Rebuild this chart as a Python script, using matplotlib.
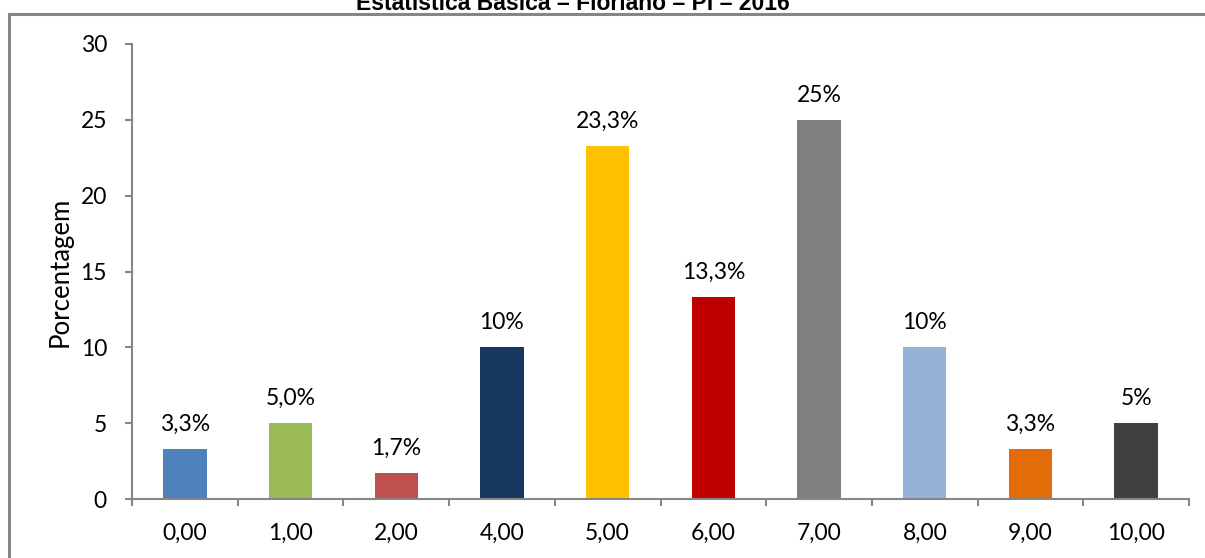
import matplotlib.pyplot as plt
from matplotlib.lines import Line2D

categories = ['0,00', '1,00', '2,00', '4,00', '5,00', '6,00', '7,00', '8,00', '9,00', '10,00']
values = [3.3, 5.0, 1.7, 10, 23.3, 13.3, 25, 10, 3.3, 5]
labels = ['3,3%', '5,0%', '1,7%', '10%', '23,3%', '13,3%', '25%', '10%', '3,3%', '5%']
colors = ['#4F81BD', '#9BBB59', '#C0504D', '#17375E', '#FFC000',
          '#C00000', '#808080', '#95B3D7', '#E36C09', '#404040']
title = 'Estatística Básica – Floriano – PI – 2016'

plt.rcParams['font.family'] = ['Lato', 'DejaVu Sans']

fig = plt.figure(figsize=(12.05, 5.58), dpi=100)
ax = fig.add_axes([132 / 1205, 1 - 499 / 558, 1057 / 1205, 455 / 558])

x = list(range(len(categories)))
ax.bar(x, values, width=0.41, color=colors)
for xi, v, lab in zip(x, values, labels):
    ax.annotate(lab, (xi, v), xytext=(0, 13), textcoords='offset points',
                ha='center', va='baseline', fontsize=16.5, color='black')

gray = '#868686'
ax.set_xlim(-0.5, len(categories) - 0.5)
ax.set_ylim(0, 30)
ax.set_yticks(range(0, 31, 5))
ax.set_xticks([i - 0.5 for i in range(len(categories) + 1)])
ax.set_xticklabels([])
ax.set_xticks(x, minor=True)
ax.set_xticklabels(categories, minor=True)
ax.tick_params(axis='x', which='major', length=5, width=1.5, color=gray, direction='out')
ax.tick_params(axis='x', which='minor', length=0, pad=17, labelsize=16.5)
ax.tick_params(axis='y', length=5, width=1.5, color=gray, direction='out', pad=13, labelsize=16.5)
for s in ['top', 'right']:
    ax.spines[s].set_visible(False)
for s in ['left', 'bottom']:
    ax.spines[s].set_color(gray)
    ax.spines[s].set_linewidth(1.5)

ax.set_ylabel('Porcentagem', fontsize=18.5)
ax.yaxis.set_label_coords(-0.056, 0.5)

# outer chart frame (partly cropped)
fig.add_artist(Line2D([8.5 / 1205, 1.0], [1 - 13.5 / 558] * 2, color=gray, lw=2.2,
                      transform=fig.transFigure))
fig.add_artist(Line2D([8.5 / 1205] * 2, [0, 1 - 13.5 / 558], color=gray, lw=2.2,
                      transform=fig.transFigure))

fig.text(573 / 1205, 1 - 10 / 558, title, ha='center', va='baseline',
         fontsize=16.5, fontweight='bold', family='Liberation Sans')

fig.savefig('out.png', dpi=100)
